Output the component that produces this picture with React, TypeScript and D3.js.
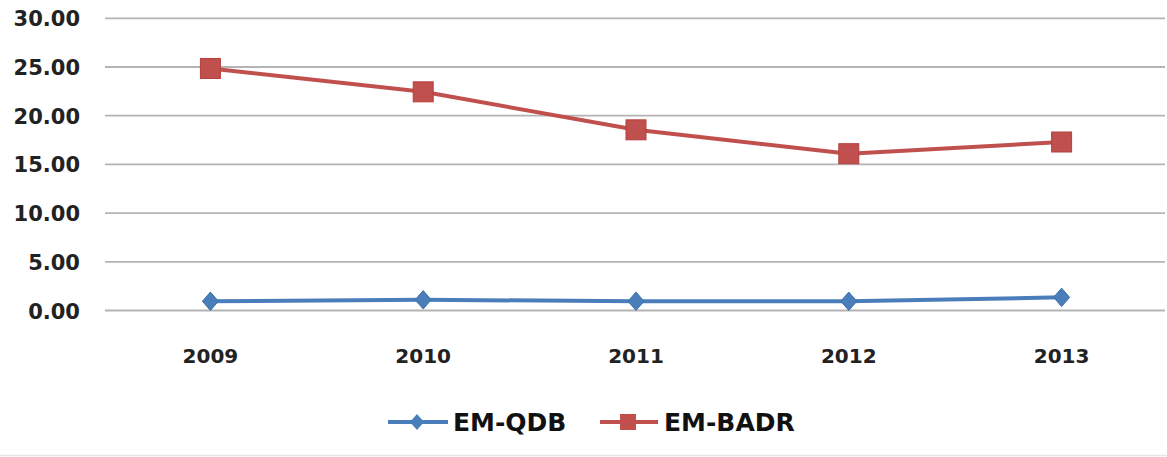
import React from "react";
import * as d3 from "d3";

const years = ["2009", "2010", "2011", "2012", "2013"];
const emQdb = [0.95, 1.1, 0.95, 0.95, 1.35];
const emBadr = [24.85, 22.45, 18.55, 16.1, 17.3];
const yTicks = [0, 5, 10, 15, 20, 25, 30];
const seriesNames = ["EM-QDB", "EM-BADR"];

const W = 1167;
const H = 457;
const FONT = "'DejaVu Sans', Verdana, sans-serif";
const BLUE = "#4A7EBB";
const RED = "#C0504D";
const RED_DARK = "#B5403D";

export default function App() {
  const x = d3.scaleBand<string>().domain(years).range([104, 1168]);
  const y = d3.scaleLinear().domain([0, 30]).range([310.5, 18.3]);
  const cx = (d: string) => (x(d) as number) + x.bandwidth() / 2;

  const line = d3
    .line<number>()
    .x((_, i) => cx(years[i]))
    .y((v) => y(v));

  const diamond = (px: number, py: number, r: number) =>
    `M${px},${py - r * 1.15} L${px + r},${py} L${px},${py + r * 1.15} L${px - r},${py} Z`;

  return (
    <div style={{ position: "absolute", left: 0, top: 0 }}>
      <svg width={W} height={H} style={{ display: "block", background: "#fff" }}>
        {/* horizontal gridlines */}
        {yTicks.map((t) => (
          <line
            key={t}
            x1={105}
            x2={1165}
            y1={y(t)}
            y2={y(t)}
            stroke="#B4B4B4"
            strokeWidth={1.8}
          />
        ))}
        {/* y-axis labels */}
        {yTicks.map((t) => (
          <text
            key={"l" + t}
            x={80}
            y={y(t) + 8}
            textAnchor="end"
            fontFamily={FONT}
            fontWeight="bold"
            fontSize={21}
            fill="#222"
          >
            {d3.format(".2f")(t)}
          </text>
        ))}
        {/* x-axis labels */}
        {years.map((yr) => (
          <text
            key={yr}
            x={cx(yr)}
            y={363}
            textAnchor="middle"
            fontFamily={FONT}
            fontWeight="bold"
            fontSize={20}
            fill="#222"
          >
            {yr}
          </text>
        ))}

        {/* EM-BADR series */}
        <path d={line(emBadr) ?? ""} fill="none" stroke={RED} strokeWidth={4} strokeLinejoin="round" />
        {emBadr.map((v, i) => (
          <rect
            key={"b" + i}
            x={cx(years[i]) - 10}
            y={y(v) - 10}
            width={20}
            height={20}
            fill={RED}
            stroke={RED_DARK}
            strokeWidth={1}
          />
        ))}

        {/* EM-QDB series */}
        <path d={line(emQdb) ?? ""} fill="none" stroke={BLUE} strokeWidth={4} strokeLinejoin="round" />
        {emQdb.map((v, i) => (
          <path key={"q" + i} d={diamond(cx(years[i]), y(v), 8)} fill={BLUE} stroke="#3F6EA6" strokeWidth={1} />
        ))}

        {/* legend */}
        <g>
          <line x1={388} x2={448} y1={422} y2={422} stroke={BLUE} strokeWidth={4} />
          <path d={diamond(417, 422, 7)} fill={BLUE} />
          <text x={453} y={431} fontFamily={FONT} fontWeight="bold" fontSize={25} fill="#111">
            {seriesNames[0]}
          </text>
          <line x1={600} x2={658} y1={422} y2={422} stroke={RED} strokeWidth={4} />
          <rect x={620} y={414} width={16} height={16} fill={RED} />
          <text x={664} y={431} fontFamily={FONT} fontWeight="bold" fontSize={25} fill="#111">
            {seriesNames[1]}
          </text>
        </g>

        {/* faint chart border along the bottom */}
        <line x1={0} x2={W} y1={455.5} y2={455.5} stroke="#E6E6E6" strokeWidth={1.5} />
      </svg>
    </div>
  );
}
